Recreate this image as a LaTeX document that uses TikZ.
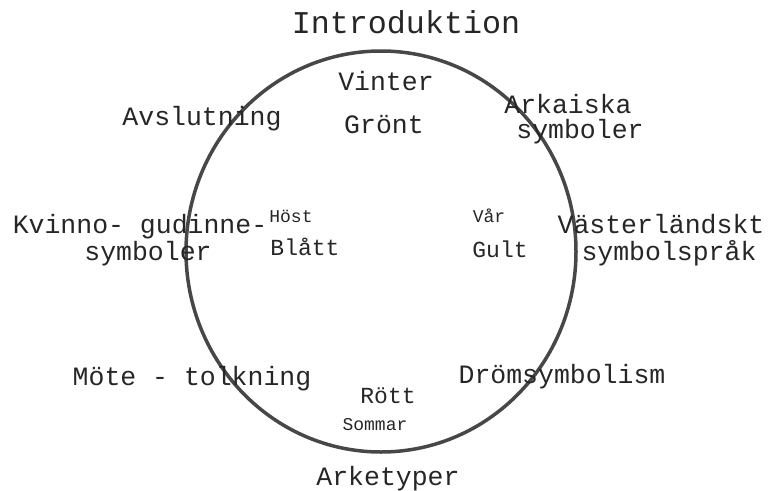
\documentclass[tikz,border=0pt]{standalone}
\usepackage{fontspec}
\setmainfont{Liberation Mono}
\usepackage{tikz}
\usetikzlibrary{shapes.geometric,positioning}

\begin{document}
\begin{tikzpicture}[x=1pt,y=-1pt,
    ring/.style={ellipse,draw=black!72,line width=3.5pt,
                 minimum width=390pt,minimum height=401pt,inner sep=0pt},
    big/.style={font=\fontsize{31.7}{36}\selectfont,anchor=base,
                inner sep=0pt,text=black!85},
    mid/.style={font=\fontsize{26.5}{30}\selectfont,anchor=base,
                inner sep=0pt,text=black!85},
    colour/.style={font=\fontsize{23}{26}\selectfont,anchor=base,
                   inner sep=0pt,text=black!85},
    season/.style={font=\fontsize{18}{21}\selectfont,anchor=base,
                   inner sep=0pt,text=black!85}]
    \useasboundingbox (0,0) rectangle (768,490);
    \node[ring](wheel) at (381,251.5){};
    % outer themes
    \node[big](intro) at (406,33){Introduktion};
    \node[mid](arkaiska) at (568,113){Arkaiska};
    \node[mid](arksym) at (580,138){symboler};
    \node[mid](vaster) at (661,233){Västerländskt};
    \node[mid](vastsym) at (669,260){symbolspråk};
    \node[mid](drom) at (562,383){Drömsymbolism};
    \node[mid](arketyp) at (388,485){Arketyper};
    \node[mid](mote) at (192,385){Möte - tolkning};
    \node[mid](kvinno) at (140,233){Kvinno- gudinne-};
    \node[mid](kvinsym) at (148,260){symboler};
    \node[mid](avslut) at (202,125){Avslutning};
    % seasons and colours
    \node[mid](vinter) at (386,90){Vinter};
    \node[mid](gront) at (384,133){Grönt};
    \node[season](host) at (291,222){Höst};
    \node[colour](blatt) at (305,255){Blått};
    \node[season](var) at (489,222){Vår};
    \node[colour](gult) at (500,257){Gult};
    \node[colour](rott) at (388,403){Rött};
    \node[season](sommar) at (375,430){Sommar};
\end{tikzpicture}
\end{document}
